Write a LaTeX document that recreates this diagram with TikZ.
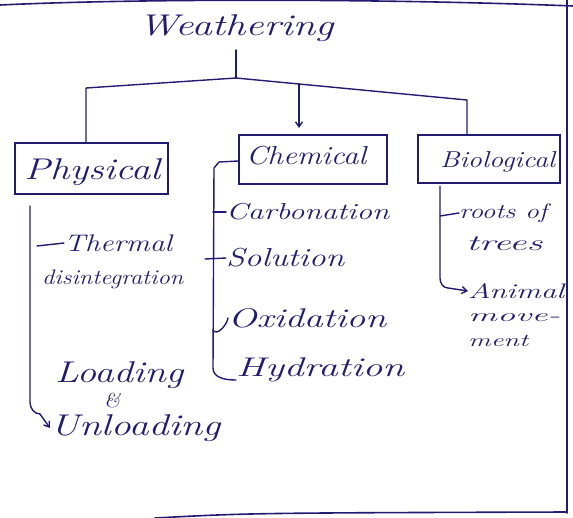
\documentclass[tikz,border=0pt]{standalone}
\usetikzlibrary{arrows.meta}
\definecolor{ink}{RGB}{34,28,112}
% italic label at a given size, stretched sideways to a given width
\newcommand\fitto[3]{\resizebox{#1pt}{\height}{\fontsize{#2}{#2}\selectfont\itshape #3}}
\begin{document}
\begin{tikzpicture}[x=1pt,y=-1pt,
  lbl/.style={text=ink, inner sep=0pt, anchor=west},
  box/.style={draw=ink, line width=1.4pt, inner sep=0pt},
  wire/.style={draw=ink, line width=1.4pt, line join=round, line cap=round},
  arr/.style={wire, -{Straight Barb[length=5pt,width=7pt]}}]
\useasboundingbox (0,0) rectangle (573,517);

% sheet edges
\draw[wire, line width=1.6pt] (0,5) .. controls (150,-2) and (400,-1) .. (573,6);
\draw[wire, line width=1.6pt] (567,0) -- (567,513);
\draw[wire, line width=1.6pt] (155,518) .. controls (250,513) .. (567,512);

% title
\node[lbl, anchor=center] (w) at (236,28) {\fitto{195}{30}{Weathering}};

% the three branches
\node[box, minimum width=153, minimum height=51] (phy) at (91.5,168.5) {};
\node[lbl] (phyt) at (24,172) {\fitto{136}{30}{Physical}};
\node[box, minimum width=148, minimum height=49] (che) at (313,159.5) {};
\node[lbl] (chet) at (246,156) {\fitto{120}{26}{Chemical}};
\node[box, minimum width=142, minimum height=48] (bio) at (489,159) {};
\node[lbl] (biot) at (440,162) {\fitto{115}{23}{Biological}};

% tree links
\coordinate (wt) at (236,50);
\coordinate (j) at (236,78);
\coordinate (jl) at (86,88);
\coordinate (jr) at (467,100);
\coordinate (ja) at (299,84);
\coordinate (jb) at (299,128);
\draw[wire] (wt) -- (j);
\draw[wire] (phy.north -| jl) -- (jl) -- (j) -- (jr) -- (jr |- bio.north);
\draw[arr] (ja) -- (jb);

% physical
\node[lbl] (therm) at (64,243) {\fitto{108}{24}{Thermal}};
\node[lbl] (disint) at (42,279) {\fitto{141}{21}{disintegration}};
\node[lbl] (load) at (55,375) {\fitto{128}{30}{Loading}};
\node[lbl] (amp) at (104,401) {\fitto{16}{20}{\&}};
\node[lbl] (unload) at (50,428) {\fitto{170}{30}{Unloading}};
\coordinate (pt) at (30,206);
\draw[wire] (pt) -- (30,402) to[out=-90,in=180] (40,414);
\draw[arr] (40,414) -- (unload.west);
\draw[wire] (37,246) -- (therm.west);

% chemical
\node[lbl] (carb) at (226,212) {\fitto{163}{23}{Carbonation}};
\node[lbl] (sol) at (226,258) {\fitto{118}{26}{Solution}};
\node[lbl] (oxi) at (228,318) {\fitto{158}{27}{Oxidation}};
\node[lbl] (hyd) at (236,370) {\fitto{168}{27}{Hydration}};
\coordinate (ct) at (214,168);
\draw[wire] (che.west |- 0,161) -- (219,162) -- (ct) -- (213,368) to[out=-90,in=180] (236,380);
\draw[wire] (213,212) -- (carb.west);
\draw[wire] (205,259) -- (sol.west);
\draw[wire] (213,330) to[out=-60,in=-100] (oxi.west);

% biological
\node[lbl] (roots) at (459,213) {\fitto{88}{21}{roots of}};
\node[lbl] (trees) at (466,244) {\fitto{76}{22}{trees}};
\node[lbl] (anim) at (468,291) {\fitto{96}{21}{Animal}};
\node[lbl] (move) at (468,318) {\fitto{92}{18}{move-}};
\node[lbl] (ment) at (468,341) {\fitto{60}{18}{ment}};
\coordinate (bt) at (440,186);
\draw[wire] (bt) -- (440,278) to[out=-90,in=180] (448,288);
\draw[arr] (448,288) -- (anim.west);
\draw[wire] (440,216) -- (roots.west);
\end{tikzpicture}
\end{document}
